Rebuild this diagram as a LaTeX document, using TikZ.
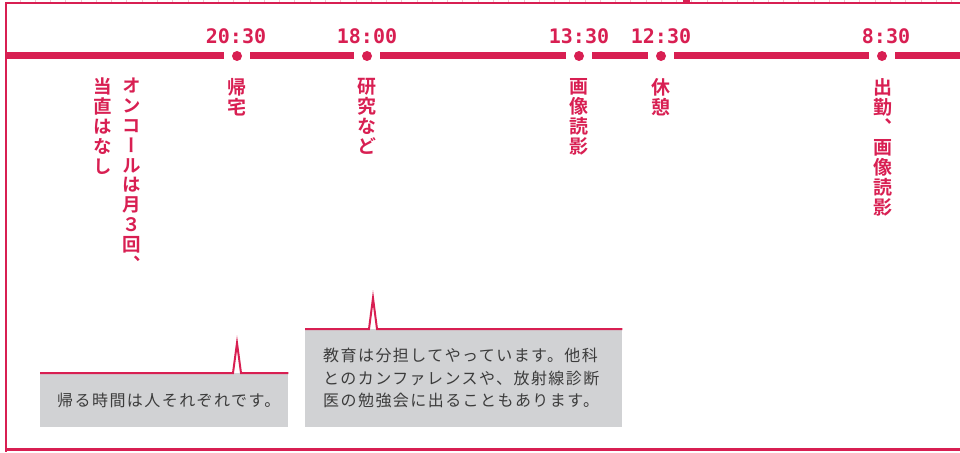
\documentclass[tikz,border=0pt]{standalone}
\usepackage{fontspec}
\usepackage{graphicx}
\newfontfamily\jp{Noto Sans CJK JP}[LetterSpace=9]
\newfontfamily\vjp{Noto Sans CJK JP Bold}[RawFeature=+vert]
\newfontfamily\digi{DejaVu Sans Mono Bold}
\definecolor{brand}{HTML}{D81F52}
\definecolor{boxgray}{HTML}{D1D2D4}
\definecolor{txtgray}{HTML}{3C3C3C}
\definecolor{tickpink}{HTML}{F3C3D0}
\tikzset{
  tline/.style={line width=7pt, brand, line cap=butt},
  tdot/.style={circle, fill=brand, minimum size=10pt, inner sep=0pt, outer sep=8pt},
  timelabel/.style={font={\digi\fontsize{20}{22}\selectfont}, text=brand, inner sep=0pt},
  vlabel/.style={anchor=north, align=center, font={\vjp\fontsize{19}{20}\selectfont}, text=brand, inner sep=0pt},
  callout/.style={fill=boxgray, anchor=north west, align=left, text=txtgray,
     font={\jp\fontsize{16}{22.5}\selectfont}, inner ysep=0pt},
  spike/.style={brand, line width=2pt},
  frame/.style={brand, line width=2pt}
}
\begin{document}
\begin{tikzpicture}[x=1pt,y=-1pt]
\useasboundingbox (0,0) rectangle (960,452);
% frame
\foreach \i in {0,...,61} {
  \draw[tickpink, line width=0.8pt] (20+15.27*\i,0) -- (20+15.27*\i,2);
}
\coordinate (fTL) at (5.5,3);
\coordinate (fTR) at (960,3);
\coordinate (fBL) at (5.5,452);
\coordinate (bL) at (5.5,449);
\coordinate (bR) at (960,449);
\draw[frame] (fTR) -- (fTL) -- (fBL);
\draw[brand, line width=3pt] (bL) -- (bR);
\fill[brand] (683,0) rectangle (690,3);
% timeline
\coordinate (tlL) at (5,56);
\coordinate (tlR) at (960,56);
\node[tdot] (d2030) at (237,56) {};
\node[tdot] (d1800) at (367,56) {};
\node[tdot] (d1330) at (579,56) {};
\node[tdot] (d1230) at (661,56) {};
\node[tdot] (d0830) at (882,56) {};
\draw[tline] (tlL) -- (d2030.west);
\draw[tline] (d2030.east) -- (d1800.west);
\draw[tline] (d1800.east) -- (d1330.west);
\draw[tline] (d1330.east) -- (d1230.west);
\draw[tline] (d1230.east) -- (d0830.west);
\draw[tline] (d0830.east) -- (tlR);
% times
\node[timelabel] (t2030) at (236,36) {20:30};
\node[timelabel] (t1800) at (367,36) {18:00};
\node[timelabel] (t1330) at (579,36) {13:30};
\node[timelabel] (t1230) at (661,36) {12:30};
\node[timelabel] (t0830) at (886,36) {8:30};
% vertical labels
\node[vlabel, font={\vjp\fontsize{18.5}{19.8}\selectfont}] (v1) at (132,78) {オ\\ン\\コ\\ー\\ル\\は\\月\\３\\回\\、};
\node[vlabel, font={\vjp\fontsize{18.5}{19.8}\selectfont}] (v2) at (103,78) {当\\直\\は\\な\\し};
\node[vlabel] (v3) at (237,78) {帰\\宅};
\node[vlabel] (v4) at (367,78) {研\\究\\な\\ど};
\node[vlabel] (v5) at (579,78) {画\\像\\読\\影};
\node[vlabel] (v6) at (661,78) {休\\憩};
\node[vlabel] (v7) at (883,78) {出\\勤\\、\\画\\像\\読\\影};
% callouts
\node[callout, inner xsep=17pt, text width=214pt, minimum width=248pt, minimum height=54pt] (c1) at (40,373) {帰る時間は人それぞれです。};
\node[callout, inner xsep=18pt, text width=281pt, minimum width=317pt, minimum height=98pt] (c2) at (305,329) {教育は分担してやっています。他科\\とのカンファレンスや、放射線診断\\医の勉強会に出ることもあります。};
\coordinate (s1) at (237,343);
\coordinate (s2) at (373,298);
\draw[spike] (c1.north west) -- ([xshift=-4pt]s1 |- c1.north) -- (s1) -- ([xshift=4pt]s1 |- c1.north) -- (c1.north east);
\draw[spike] (c2.north west) -- ([xshift=-4pt]s2 |- c2.north) -- (s2) -- ([xshift=4pt]s2 |- c2.north) -- (c2.north east);
\end{tikzpicture}
\end{document}
